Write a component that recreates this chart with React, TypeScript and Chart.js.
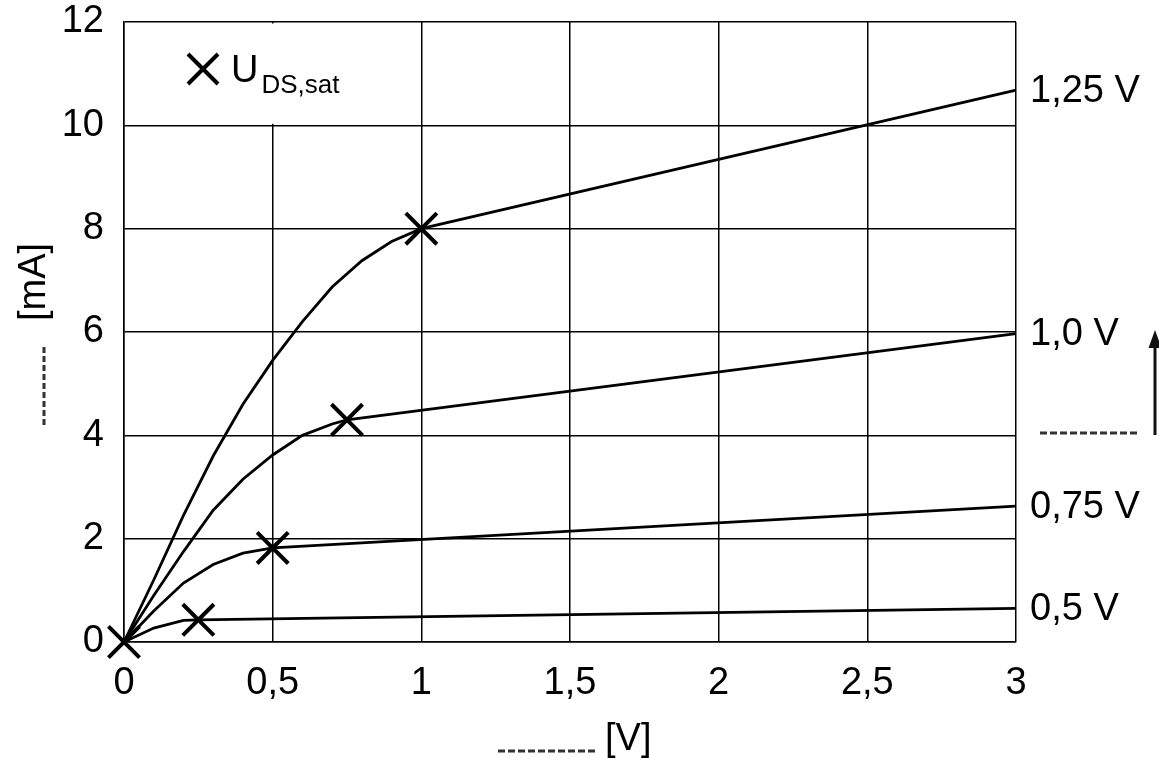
import React, { useEffect, useRef } from 'react';
import { Chart, registerables } from 'chart.js';
Chart.register(...registerables);

// ---- data ----
const xTickLabels = ['0', '0,5', '1', '1,5', '2', '2,5', '3'];
const yTickLabels = ['0', '2', '4', '6', '8', '10', '12'];
const curveLabels = ['1,25 V', '1,0 V', '0,75 V', '0,5 V'];

const u125X = [0, 0.1, 0.2, 0.3, 0.4, 0.5, 0.6, 0.7, 0.8, 0.9, 1.0, 3.0];
const u125Y = [0, 1.2, 2.45, 3.6, 4.6, 5.45, 6.2, 6.87, 7.38, 7.75, 8.0, 10.68];
const u100X = [0, 0.1, 0.2, 0.3, 0.4, 0.5, 0.6, 0.7, 0.75, 3.0];
const u100Y = [0, 0.9, 1.75, 2.55, 3.15, 3.62, 4.0, 4.22, 4.3, 5.97];
const u075X = [0, 0.1, 0.2, 0.3, 0.4, 0.5, 3.0];
const u075Y = [0, 0.6, 1.14, 1.5, 1.72, 1.82, 2.63];
const u050X = [0, 0.1, 0.2, 0.25, 3.0];
const u050Y = [0, 0.27, 0.42, 0.43, 0.65];
const satX = [0, 0.25, 0.5, 0.75, 1.0];
const satY = [0, 0.43, 1.82, 4.3, 8.0];

const legendMain = 'U';
const legendSub = 'DS,sat';
const xTitle = '[V]';
const yTitle = '[mA]';

const FONT = '"Liberation Sans", Arial, sans-serif';
const FS = 38;
const zip = (xs: number[], ys: number[]) => xs.map((x, i) => ({ x, y: ys[i] }));

const drawCross = (ctx: CanvasRenderingContext2D, cx: number, cy: number, h: number) => {
  ctx.beginPath();
  ctx.moveTo(cx - h, cy - h);
  ctx.lineTo(cx + h, cy + h);
  ctx.moveTo(cx + h, cy - h);
  ctx.lineTo(cx - h, cy + h);
  ctx.stroke();
};

const decorPlugin = {
  id: 'decor',
  beforeDatasetsDraw(chart: any) {
    const { ctx } = chart;
    const xs = chart.scales.x;
    const ys = chart.scales.y;
    const l = xs.getPixelForValue(0) + 1.5;
    const r = xs.getPixelForValue(1) - 1.5;
    const t = ys.getPixelForValue(12) + 1.5;
    const b = ys.getPixelForValue(10) - 1.5;
    ctx.save();
    ctx.fillStyle = '#fff';
    ctx.fillRect(l, t, r - l, b - t);
    ctx.restore();
  },
  afterDraw(chart: any) {
    const { ctx, chartArea } = chart;
    ctx.save();
    // legend
    ctx.strokeStyle = '#000';
    ctx.lineWidth = 4;
    drawCross(ctx, 203, 69, 15);
    ctx.fillStyle = '#000';
    ctx.textBaseline = 'alphabetic';
    ctx.textAlign = 'left';
    ctx.font = `${FS}px ${FONT}`;
    ctx.fillText(legendMain, 231, 82);
    const uw = ctx.measureText(legendMain).width;
    ctx.font = `26px ${FONT}`;
    ctx.fillText(legendSub, 231 + uw + 3, 93);

    // curve labels at line ends
    ctx.font = `${FS}px ${FONT}`;
    ctx.textBaseline = 'middle';
    curveLabels.forEach((lab, i) => {
      const meta = chart.getDatasetMeta(i);
      const p = meta.data[meta.data.length - 1];
      ctx.fillText(lab, chartArea.right + 14, p.y + 1);
    });

    // dashed placeholder + arrow on the right
    ctx.strokeStyle = '#333';
    ctx.lineWidth = 3;
    ctx.setLineDash([7, 3]);
    ctx.beginPath();
    ctx.moveTo(1040, 433);
    ctx.lineTo(1140, 433);
    ctx.stroke();
    ctx.setLineDash([]);
    ctx.strokeStyle = '#111';
    ctx.lineWidth = 3;
    ctx.beginPath();
    ctx.moveTo(1155, 435);
    ctx.lineTo(1155, 345);
    ctx.stroke();
    ctx.fillStyle = '#111';
    ctx.beginPath();
    ctx.moveTo(1155, 330);
    ctx.lineTo(1148.5, 348);
    ctx.lineTo(1161.5, 348);
    ctx.closePath();
    ctx.fill();

    // x axis title
    ctx.fillStyle = '#000';
    ctx.font = `${FS}px ${FONT}`;
    ctx.textBaseline = 'alphabetic';
    const dashStart = 498;
    const dashLen = 99;
    ctx.strokeStyle = '#333';
    ctx.lineWidth = 3;
    ctx.setLineDash([7, 3]);
    ctx.beginPath();
    ctx.moveTo(dashStart, 751);
    ctx.lineTo(dashStart + dashLen, 751);
    ctx.stroke();
    ctx.setLineDash([]);
    ctx.fillText(xTitle, 605, 750);

    // y axis title (rotated)
    const cy = (chartArea.top + chartArea.bottom) / 2;
    ctx.translate(45, cy);
    ctx.rotate(-Math.PI / 2);
    const tw2 = ctx.measureText(yTitle).width;
    const dash2 = 80;
    const gap2 = 24;
    const s2 = -(dash2 + gap2 + tw2) / 2 - 2;
    ctx.strokeStyle = '#333';
    ctx.lineWidth = 3;
    ctx.setLineDash([6, 3]);
    ctx.beginPath();
    ctx.moveTo(s2, -1);
    ctx.lineTo(s2 + dash2, -1);
    ctx.stroke();
    ctx.setLineDash([]);
    ctx.fillText(yTitle, s2 + dash2 + gap2, 0);
    ctx.restore();
  },
};

export default function App() {
  const ref = useRef<HTMLCanvasElement | null>(null);
  useEffect(() => {
    if (!ref.current) return;
    const lineDs = (xs: number[], ys: number[]) => ({
      data: zip(xs, ys),
      showLine: true,
      borderColor: '#000',
      borderWidth: 2.8,
      pointRadius: 0,
      tension: 0,
      clip: false as any,
    });
    const chart = new Chart(ref.current, {
      type: 'scatter',
      data: {
        datasets: [
          lineDs(u125X, u125Y),
          lineDs(u100X, u100Y),
          lineDs(u075X, u075Y),
          lineDs(u050X, u050Y),
          {
            data: zip(satX, satY),
            showLine: false,
            pointStyle: 'crossRot',
            pointRadius: 22,
            borderColor: '#000',
            borderWidth: 4,
            clip: false as any,
          } as any,
        ],
      },
      options: {
        animation: false,
        responsive: false,
        maintainAspectRatio: false,
        events: [],
        layout: { autoPadding: false, padding: { top: 22, right: 143, bottom: 0, left: 0 } },
        plugins: { legend: { display: false }, tooltip: { enabled: false } },
        scales: {
          x: {
            type: 'linear',
            min: 0,
            max: 3,
            afterFit: (s: any) => { s.height = 116; s.paddingLeft = 0; s.paddingRight = 0; },
            afterBuildTicks: (s: any) => { s.ticks = xTickLabels.map((_, i) => ({ value: i * 0.5 })); },
            grid: { color: '#000', lineWidth: 1.5, drawTicks: false },
            border: { color: '#000', width: 1.5 },
            ticks: {
              autoSkip: false,
              maxRotation: 0,
              padding: 19,
              color: '#000',
              font: { size: FS, family: FONT },
              callback: (v: any) => xTickLabels[Math.round(Number(v) / 0.5)],
            },
          },
          y: {
            type: 'linear',
            min: 0,
            max: 12,
            afterFit: (s: any) => { s.width = 124; s.paddingTop = 0; s.paddingBottom = 0; },
            afterBuildTicks: (s: any) => { s.ticks = yTickLabels.map((_, i) => ({ value: i * 2 })); },
            grid: { color: '#000', lineWidth: 1.5, drawTicks: false },
            border: { color: '#000', width: 1.5 },
            ticks: {
              padding: 20,
              color: '#000',
              font: { size: FS, family: FONT },
              callback: (v: any) => yTickLabels[Math.round(Number(v) / 2)],
            },
          },
        },
      },
      plugins: [decorPlugin],
    });
    return () => chart.destroy();
  }, []);
  return (
    <div style={{ position: 'fixed', left: 0, top: 0, width: 1159, height: 758, overflow: 'hidden', background: '#fff' }}>
      <canvas ref={ref} width={1159} height={758} style={{ display: 'block', width: 1159, height: 758 }} />
    </div>
  );
}
